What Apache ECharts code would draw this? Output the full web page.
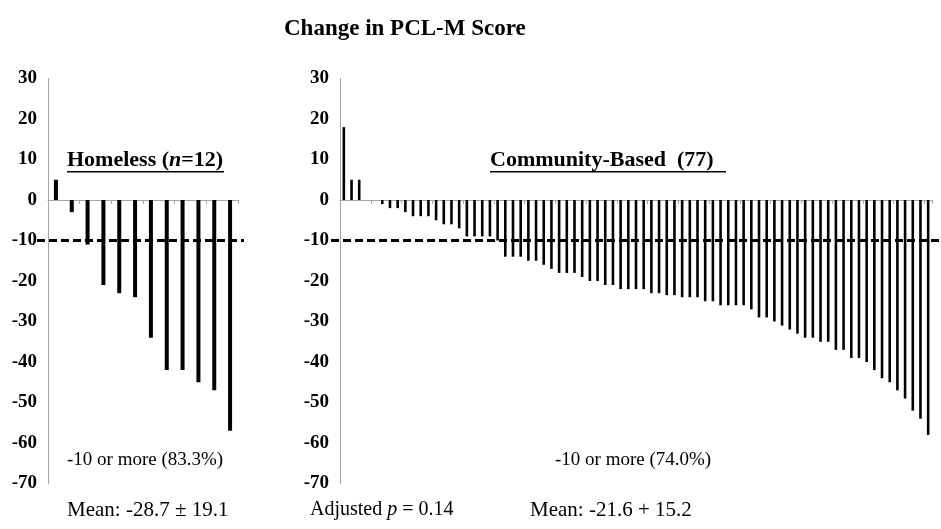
<!DOCTYPE html>
<html>
<head>
<meta charset="utf-8">
<script src="https://cdn.jsdelivr.net/npm/echarts@6/dist/echarts.min.js"></script>
<style>
  html, body { margin: 0; padding: 0; background: #fff; }
  #main { width: 941px; height: 529px; }
</style>
</head>
<body>
<div id="main"></div>
<script>
// change in PCL-M score, one value per participant (sorted)
var homelessVals = [5, -3, -11, -21, -23, -24, -34, -42, -42, -45, -47, -57];
var communityVals = [18, 5, 5, 0, 0, -1, -2, -2, -3, -4, -4, -4, -5, -6, -6, -7, -9, -9, -9, -9, -10,
    -14, -14, -14, -15, -15, -16, -17, -18, -18, -18, -19, -20, -20, -21, -21, -22, -22, -22, -22,
    -23, -23, -23.5, -23.5, -24, -24, -24,
    -25, -25, -26, -26, -26, -26, -27, -29, -29, -30, -31, -32, -33, -34, -34, -35, -35, -37, -37,
    -39, -39, -40, -42, -44, -45, -47, -49, -52, -54, -58];
var yTicks = [-70, -60, -50, -40, -30, -20, -10, 0, 10, 20, 30];
var cutoff = -10;
var cutoffSpan = [0, 1];

var homelessCats = homelessVals.map(function (v, i) { return 'H' + (i + 1); });
var communityCats = communityVals.map(function (v, i) { return 'C' + (i + 1); });
var cutoffData = cutoffSpan.map(function (x) { return [x, cutoff]; });

var chart = echarts.init(document.getElementById('main'));
var serif = '"Liberation Serif", "DejaVu Serif", serif';
var gridTop = 78.5, gridH = 405;

function valAxis(grid, show) {
    return {
        type: 'value', gridIndex: grid,
        min: yTicks[0], max: yTicks[yTicks.length - 1], interval: 10,
        show: show,
        axisLine: { show: true, lineStyle: { color: '#a6a6a6', width: 1 } },
        axisTick: { show: false },
        splitLine: { show: false },
        axisLabel: { color: '#000', fontFamily: serif, fontWeight: 'bold', fontSize: 19, margin: 11 }
    };
}
function catAxis(grid, cats) {
    return {
        type: 'category', gridIndex: grid, data: cats,
        axisLine: { onZero: true, lineStyle: { color: '#a6a6a6', width: 1 } },
        axisTick: { show: true, length: 4, lineStyle: { color: '#a6a6a6' } },
        axisLabel: { show: false },
        splitLine: { show: false }
    };
}
function lineAxis(grid) {
    return { type: 'value', gridIndex: grid, min: 0, max: 1, show: false };
}
var dashStyle = { color: '#000', width: 3, type: [8, 4] };

var option = {
    animation: false,
    backgroundColor: '#fff',
    grid: [
        { left: 48, top: gridTop, width: 190, height: gridH },
        { left: 340, top: gridTop, width: 592, height: gridH },
        { left: 37, top: gridTop, width: 207, height: gridH },
        { left: 331, top: gridTop, width: 610, height: gridH }
    ],
    xAxis: [catAxis(0, homelessCats), catAxis(1, communityCats), lineAxis(2), lineAxis(3)],
    yAxis: [valAxis(0, true), valAxis(1, true), valAxis(2, false), valAxis(3, false)],
    series: [
        {
            name: 'Homeless', type: 'bar', xAxisIndex: 0, yAxisIndex: 0,
            data: homelessVals, barWidth: 4, itemStyle: { color: '#000' }
        },
        {
            name: 'Community-Based', type: 'bar', xAxisIndex: 1, yAxisIndex: 1,
            data: communityVals, barWidth: 2.6, itemStyle: { color: '#000' }
        },
        {
            type: 'line', xAxisIndex: 2, yAxisIndex: 2, data: cutoffData, z: 5,
            symbol: 'none', lineStyle: dashStyle
        },
        {
            type: 'line', xAxisIndex: 3, yAxisIndex: 3, data: cutoffData, z: 5,
            symbol: 'none', lineStyle: dashStyle
        }
    ],
    graphic: [
        {
            type: 'text', left: 284, top: 18,
            style: { text: 'Change in PCL-M Score', font: 'bold 23px ' + serif, fill: '#000' }
        },
        {
            type: 'text', left: 67, top: 149,
            style: {
                text: '{b|Homeless (}{bi|n}{b|=12)}', fill: '#000',
                rich: {
                    b: { font: 'bold 22px ' + serif },
                    bi: { font: 'italic bold 22px ' + serif }
                }
            }
        },
        { type: 'rect', shape: { x: 67, y: 171, width: 157, height: 1.5 }, style: { fill: '#000' } },
        {
            type: 'text', left: 490, top: 149,
            style: { text: 'Community-Based  (77)', font: 'bold 22px ' + serif, fill: '#000' }
        },
        { type: 'rect', shape: { x: 490, y: 171, width: 236, height: 1.5 }, style: { fill: '#000' } },
        {
            type: 'text', left: 67, top: 451,
            style: { text: '-10 or more (83.3%)', font: '19px ' + serif, fill: '#000' }
        },
        {
            type: 'text', left: 555, top: 451,
            style: { text: '-10 or more (74.0%)', font: '19px ' + serif, fill: '#000' }
        },
        {
            type: 'text', left: 67, top: 500,
            style: { text: 'Mean: -28.7 \u00b1 19.1', font: '21px ' + serif, fill: '#000' }
        },
        {
            type: 'text', left: 310, top: 500,
            style: {
                text: '{r|Adjusted }{i|p}{r| = 0.14}', fill: '#000',
                rich: {
                    r: { font: '20px ' + serif },
                    i: { font: 'italic 20px ' + serif }
                }
            }
        },
        {
            type: 'text', left: 530, top: 500,
            style: { text: 'Mean: -21.6 + 15.2', font: '21px ' + serif, fill: '#000' }
        }
    ]
};

chart.setOption(option);
</script>
</body>
</html>
